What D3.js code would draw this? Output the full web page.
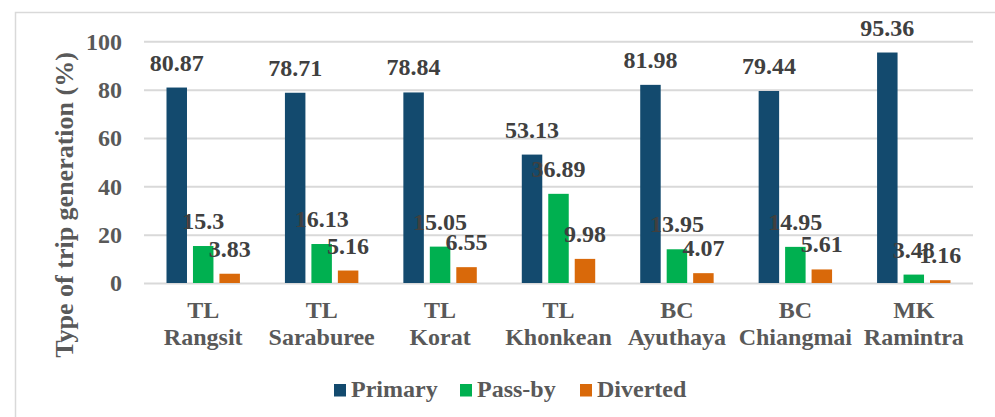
<!DOCTYPE html>
<html>
<head>
<meta charset="utf-8">
<script src="https://cdn.jsdelivr.net/npm/d3@7/dist/d3.min.js"></script>
<style>
html,body{margin:0;padding:0;background:#fff;}
svg{display:block;}
svg text{font-family:"Times New Roman","Liberation Serif",Tinos,Times,serif !important;font-weight:700;}
</style>
</head>
<body>
<svg id="chart" width="995" height="417"></svg>
<script>
const categories = [["TL","Rangsit"],["TL","Saraburee"],["TL","Korat"],["TL","Khonkean"],["BC","Ayuthaya"],["BC","Chiangmai"],["MK","Ramintra"]];
const seriesNames = ["Primary","Pass-by","Diverted"];
const primary = [80.87, 78.71, 78.84, 53.13, 81.98, 79.44, 95.36];
const passby = [15.3, 16.13, 15.05, 36.89, 13.95, 14.95, 3.48];
const diverted = [3.83, 5.16, 6.55, 9.98, 4.07, 5.61, 1.16];
const yTicks = [0, 20, 40, 60, 80, 100];
const colors = ["#134A6E", "#00B050", "#D9690A"];
const seriesValues = [primary, passby, diverted];

const FONT = '"Times New Roman","Liberation Serif",Tinos,Times,serif';
const svg = d3.select("#chart");
const plotL = 144, plotR = 973, plotT = 41.3, plotB = 283;

// frame
svg.append("path")
  .attr("d", "M15.5,430 L15.5,12.5 L1000,12.5")
  .attr("fill","none").attr("stroke","#d9d9d9").attr("stroke-width",1.5);

const catKeys = categories.map(c => c.join(" "));
const x0 = d3.scaleBand().domain(catKeys).range([plotL, plotR]).paddingInner(0.38).paddingOuter(0.19);
const x1 = d3.scaleBand().domain(seriesNames).range([0, x0.bandwidth()]).paddingInner(0.226);
const y = d3.scaleLinear().domain([0, 100]).range([plotB, plotT]);

// gridlines
const yAxis = d3.axisLeft(y).tickValues(yTicks).tickSize(-(plotR-plotL)).tickFormat(d3.format("d")).tickPadding(22);
const ga = svg.append("g").attr("transform", `translate(${plotL},0)`).call(yAxis);
ga.attr("font-family", FONT);
ga.select(".domain").remove();
ga.selectAll(".tick line").attr("stroke","#d9d9d9").attr("stroke-width",2);
ga.selectAll(".tick text").attr("fill","#595959").attr("font-size","24px")
  .attr("font-family",FONT).attr("font-weight","bold").attr("dy","0.33em");

// bars
const groups = svg.append("g").selectAll("g").data(categories).join("g")
  .attr("transform", (d,i) => `translate(${x0(catKeys[i])},0)`);

seriesNames.forEach((s, si) => {
  groups.append("rect")
    .attr("x", x1(s))
    .attr("width", x1.bandwidth())
    .attr("y", (d,i) => y(seriesValues[si][i]))
    .attr("height", (d,i) => y(0) - y(seriesValues[si][i]))
    .attr("fill", colors[si]);
});
seriesNames.forEach((s, si) => {
  groups.append("text")
    .attr("x", x1(s) + x1.bandwidth()/2)
    .attr("y", (d,i) => y(seriesValues[si][i]) - 17)
    .attr("text-anchor","middle")
    .attr("fill","#404040")
    .attr("font-family",FONT).attr("font-weight","bold")
    .attr("font-size","24px")
    .text((d,i) => seriesValues[si][i]);
});

// category labels
const catG = svg.append("g").selectAll("text").data(categories).join("text")
  .attr("text-anchor","middle")
  .attr("fill","#595959")
  .attr("font-family",FONT).attr("font-weight","bold")
  .attr("font-size","24px")
  .attr("transform", (d,i) => `translate(${x0(catKeys[i]) + x0.bandwidth()/2},0)`);
catG.append("tspan").attr("x",0).attr("y",318).text(d => d[0]);
catG.append("tspan").attr("x",0).attr("y",345).text(d => d[1]);

// y title
svg.append("text")
  .attr("transform","translate(73,205) rotate(-90)")
  .attr("text-anchor","middle")
  .attr("fill","#595959")
  .attr("font-family",FONT).attr("font-weight","bold")
  .attr("font-size","26px")
  .text("Type of trip generation (%)");

// legend
const legendX = [334, 460, 580];
const lg = svg.append("g").selectAll("g").data(seriesNames).join("g")
  .attr("transform", (d,i) => `translate(${legendX[i]},384)`);
lg.append("rect").attr("width",12).attr("height",12.5).attr("fill",(d,i) => colors[i]);
lg.append("text").attr("x",17).attr("y",13.3).attr("fill","#595959")
  .attr("font-family",FONT).attr("font-weight","bold")
  .attr("font-size","24px").text(d => d);
</script>
</body>
</html>
